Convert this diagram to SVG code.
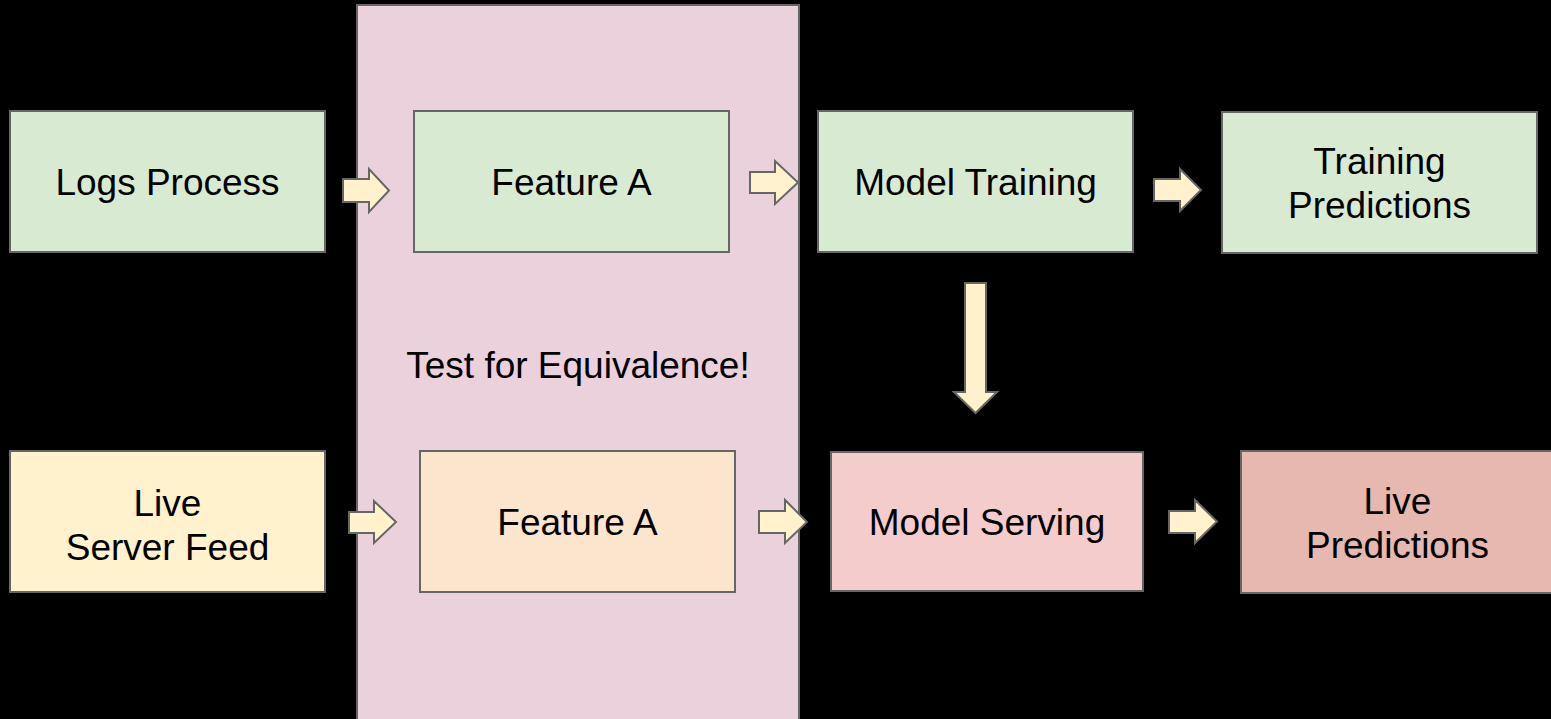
<svg xmlns="http://www.w3.org/2000/svg" width="1551" height="719" viewBox="0 0 1551 719">
  <style>
    .box { stroke: #666666; stroke-width: 2; }
    .green { fill: #d9ead3; }
    .yellow { fill: #fff2cc; }
    .orange { fill: #fce5cd; }
    .pink { fill: #f4cccc; }
    .red { fill: #e6b8af; }
    .panel { fill: #ead1dc; stroke: #666666; stroke-width: 2; }
    .arrow { fill: #fff2cc; stroke: #666666; stroke-width: 2; stroke-linejoin: miter; }
    text { font-family: "Liberation Sans", Arial, sans-serif; font-size: 37px; fill: #000000; text-anchor: middle; }
  </style>
  <rect width="1551" height="719" fill="#000000"/>

  <!-- shared feature pipeline panel -->
  <g id="equivalence-panel">
    <rect class="panel" x="357" y="5" width="442" height="730"/>
    <text x="578" y="378">Test for Equivalence!</text>
  </g>

  <!-- training path -->
  <g id="logs-process">
    <rect class="box green" x="10" y="111" width="315" height="141"/>
    <text x="167.5" y="195">Logs Process</text>
  </g>
  <g id="feature-a-training">
    <rect class="box green" x="414" y="111" width="315" height="141"/>
    <text x="571.5" y="195">Feature A</text>
  </g>
  <g id="model-training">
    <rect class="box green" x="818" y="111" width="315" height="141"/>
    <text x="975.5" y="195">Model Training</text>
  </g>
  <g id="training-predictions">
    <rect class="box green" x="1222" y="112" width="315" height="141"/>
    <text x="1379.5" y="174">Training</text>
    <text x="1379.5" y="218">Predictions</text>
  </g>

  <!-- serving path -->
  <g id="live-server-feed">
    <rect class="box yellow" x="10" y="451" width="315" height="141"/>
    <text x="167.5" y="516">Live</text>
    <text x="167.5" y="560">Server Feed</text>
  </g>
  <g id="feature-a-serving">
    <rect class="box orange" x="420" y="451" width="315" height="141"/>
    <text x="577.5" y="535">Feature A</text>
  </g>
  <g id="model-serving">
    <rect class="box pink" x="831" y="452" width="312" height="139"/>
    <text x="987" y="535">Model Serving</text>
  </g>
  <g id="live-predictions">
    <rect class="box red" x="1241" y="451" width="314" height="142"/>
    <text x="1397.5" y="514">Live</text>
    <text x="1397.5" y="558">Predictions</text>
  </g>

  <!-- block arrows -->
  <g id="connectors">
    <polygon class="arrow" points="343,179 369,179 369,169 389,190.5 369,212 369,202 343,202"/>
    <polygon class="arrow" points="750,172 775,172 775,161 798,182.5 775,204 775,193 750,193"/>
    <polygon class="arrow" points="1154,179 1180,179 1180,169 1201,190 1180,211 1180,201 1154,201"/>
    <polygon class="arrow" points="965,283 986,283 986,392 997,392 975.5,413 954,392 965,392"/>
    <polygon class="arrow" points="349,512 374,512 374,501 396,522 374,543 374,533 349,533"/>
    <polygon class="arrow" points="759,511 785,511 785,500 807,522 785,543 785,533 759,533"/>
    <polygon class="arrow" points="1169,511 1195,511 1195,500 1217,521.5 1195,543 1195,533 1169,533"/>
  </g>
</svg>
